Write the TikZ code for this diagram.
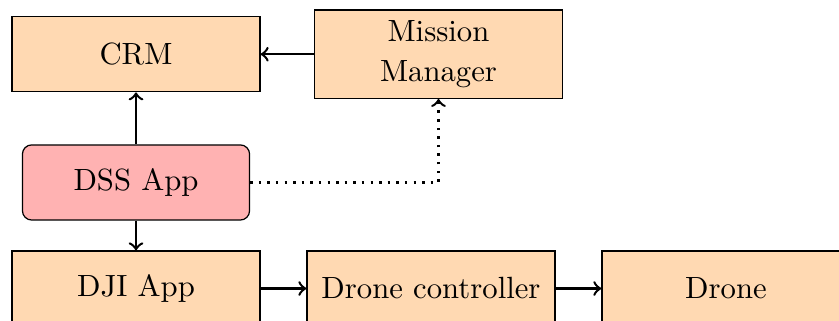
\documentclass[tikz,border=0pt]{standalone}
\usetikzlibrary{calc}

\tikzset{
	block/.style={draw, rectangle, fill=orange!30, minimum width=2.84cm, minimum height=0.86cm, align=center},
	appbox/.style={draw, rectangle, rounded corners=3pt, fill=red!30, minimum width=2.6cm, minimum height=0.86cm},
	link/.style={->, thick},
}

\begin{document}
\begin{tikzpicture}
	\clip (0,0) rectangle (9.605,3.675);
	% top row
	\coordinate (s) at (1.557,3.054);
	\node[block] (crm) at (s) {CRM};
		\coordinate (s) at ($(s) + (3.463,0)$);
	\node[block] (mm) at (s) {Mission\\[1.2pt]Manager};
	% middle
	\coordinate (s) at (1.557,1.586);
	\node[appbox] (dss) at (s) {DSS App};
	% bottom row
	\coordinate (s) at (1.557,0.372);
	\node[block] (dji) at (s) {DJI App};
		\coordinate (s) at ($(s) + (3.377,0)$);
	\node[block] (ctrl) at (s) {Drone controller};
		\coordinate (s) at ($(s) + (3.377,0)$);
	\node[block] (drone) at (s) {Drone};

	\draw[link] (mm) -- (crm);
	\draw[link] (dss) -- (crm);
	\draw[link] (dss) -- (dji);
	\draw[link] (dji) -- (ctrl);
	\draw[link] (ctrl) -- (drone);
	\draw[link, dotted] (dss.east) -| (mm.south);
\end{tikzpicture}
\end{document}
